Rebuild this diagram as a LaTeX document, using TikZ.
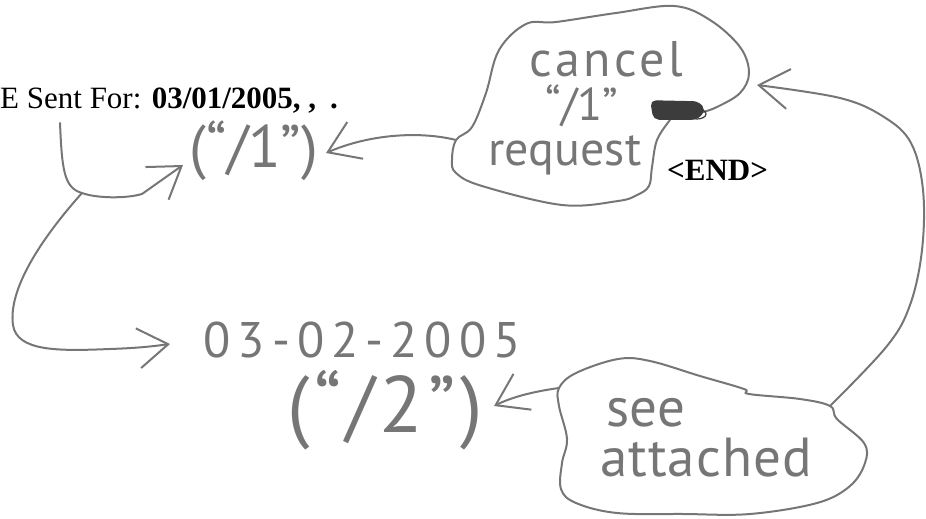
\documentclass[tikz,border=0pt]{standalone}
\usepackage{fontspec}
\setmainfont{Liberation Serif}
\newfontfamily\hand{PT Sans}
\usetikzlibrary{arrows.meta}
\definecolor{pencil}{RGB}{118,118,118}
\definecolor{scrib}{RGB}{60,60,60}
\tikzset{
  stroke/.style={draw=pencil, line width=2pt, line cap=round, line join=round},
  harrow/.style={stroke, -{Straight Barb[length=30pt, width=40pt]}},
  handtext/.style={text=pencil, inner sep=0pt},
  printed/.style={text=black, inner sep=0pt, font=\fontsize{31}{31}\selectfont},
}
\begin{document}
\begin{tikzpicture}[x=1pt,y=-1pt]
\useasboundingbox (0,0) rectangle (926,519);
% printed texts
\node[printed, anchor=base west] (hdr) at (0,108) {E Sent For: \textbf{03/01/2005,\ ,\hspace{14pt}.}};
\node[printed, anchor=base west] (endtag) at (667,180) {\textbf{<END>}};
% handwritten texts
\node[handtext, font=\hand\fontsize{50}{50}\selectfont\addfontfeatures{LetterSpace=7}, anchor=base] (cancel) at (606,77) {cancel};
\node[handtext, font=\hand\fontsize{46}{46}\selectfont, anchor=base] (q1) at (582,120) {“/1”};
\node[handtext, font=\hand\fontsize{48}{48}\selectfont, anchor=base] (request) at (565,165) {request};
\node[handtext, font=\hand\fontsize{60}{60}\selectfont, anchor=base] (p1) at (254,167) {(“/1”)};
\node[handtext, font=\hand\fontsize{50}{50}\selectfont\addfontfeatures{LetterSpace=14}, anchor=base] (date2) at (362,357) {03-02-2005};
\node[handtext, font=\hand\fontsize{80}{80}\selectfont\addfontfeatures{LetterSpace=6}, anchor=base] (p2) at (385,432) {(“/2”)};
\node[handtext, font=\hand\fontsize{55}{55}\selectfont, anchor=base] (see) at (646,426) {see};
\node[handtext, font=\hand\fontsize{55}{55}\selectfont\addfontfeatures{LetterSpace=2}, anchor=base] (attached) at (706,476) {attached};
% blob 1
\coordinate (b1left) at (456,140);
\coordinate (b1s) at (703,112);
\coordinate (b1e) at (670,120);
\draw[stroke] plot[smooth, tension=0.6] coordinates {(b1s) (717,107) (740,93) (749,73) (740,47) (710,20) (674,6) (616,13) (556,22) (526,24) (499,50) (486,93) (472,127) (b1left) (452,160) (456,173) (482,186) (562,205) (618,201) (637,195) (649,186) (652,167) (657,140) (b1e)};
\filldraw[fill=scrib, draw=scrib, line width=1.5pt, rounded corners=5pt] (651,101) -- (698,102) -- (705,110) -- (697,119) -- (654,119) -- cycle;
\draw[stroke, draw=scrib, line width=1.2pt] (697,114) ellipse (9pt and 5pt);
% blob 2
\coordinate (b2left) at (559,388);
\coordinate (b2right) at (830,406);
\draw[stroke] plot[smooth cycle, tension=0.6] coordinates {(b2left) (576,373) (618,359) (650,361) (700,376) (744,389) (749,394) (800,399) (b2right) (837,419) (864,443) (865,463) (850,486) (817,503) (750,514) (684,514) (617,513) (576,503) (561,489) (562,463) (567,439) (559,406)};
% left curves
\coordinate (lstart) at (60,123);
\coordinate (junc) at (82,193);
\coordinate (t1) at (183,165);
\coordinate (t2) at (170,344);
\draw[stroke] (lstart) .. controls (62,170) and (64,188) .. (junc);
\draw[harrow] (junc) .. controls (95,198) and (125,199) .. (142,194) -- (t1);
\draw[harrow] (junc) .. controls (40,240) and (8,290) .. (13,325) .. controls (17,352) and (60,351) .. (110,349) .. controls (140,348) and (155,346) .. (t2);
% connectors from blobs
\coordinate (t3) at (326,153);
\draw[harrow] (b1left) .. controls (420,131) and (370,134) .. (t3);
\coordinate (t4) at (494,406);
\draw[harrow] (b2left) .. controls (530,392) and (510,398) .. (t4);
\coordinate (t5) at (757,85);
\draw[harrow] plot[smooth, tension=0.6] coordinates {(b2right) (887,346) (910,305) (922,250) (923,190) (911,143) (884,117) (840,98) (t5)};
\end{tikzpicture}
\end{document}
